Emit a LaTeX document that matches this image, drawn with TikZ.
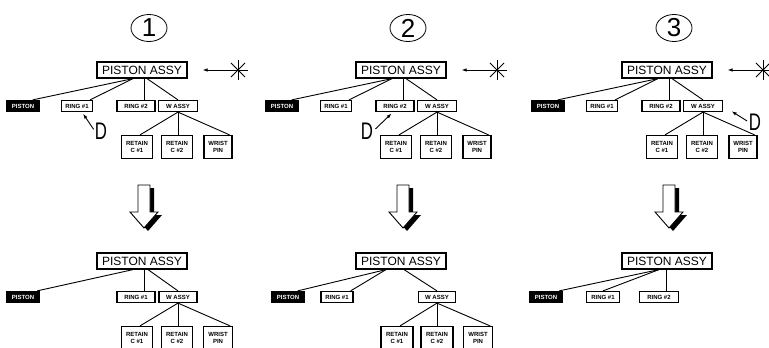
\documentclass[tikz,border=0pt]{standalone}
\usepackage{fontspec}
\setmainfont{Liberation Sans}
\usetikzlibrary{arrows.meta,shapes.geometric}
\tikzset{assy/.style={draw,line width=1.2pt,minimum width=90pt,minimum height=16pt,inner sep=1pt,font=\fontsize{12}{12}\selectfont},
  part/.style={draw,line width=1.2pt,fill=white,minimum height=11pt,inner sep=0.5pt,align=center,font=\fontsize{6}{6.5}\selectfont\bfseries},
  twoline/.style={part,minimum height=23pt},
  cut/.style={part,fill=black,text=white},
  num/.style={ellipse,draw,line width=0.8pt,minimum width=36pt,minimum height=27pt,inner sep=0pt,font=\fontsize{26}{26}\selectfont},
  dmark/.style={inner sep=0pt,font=\fontsize{24}{24}\selectfont},
  link/.style={line width=0.9pt},
  ptr/.style={line width=0.9pt,-{Latex[length=5pt,width=3.5pt]}}}
\begin{document}
\begin{tikzpicture}[x=1pt,y=-1pt]
\clip (0,0) rectangle (769,348);
% top row: the three trees before the change
\foreach \p/\dx/\n in {A/0/1,B/259/2,C/525/3}{
 \begin{scope}[xshift=\dx pt]
  \node[num] (num\p) at (149,28) {\n};
  \node[assy] (assy\p) at (142,70) {PISTON ASSY};
  \coordinate (star\p) at (238,70);
  \foreach \a in {0,45,90,135}{\draw[line width=0.8pt] (star\p) ++(\a:10) -- ++(\a+180:20);}
  \draw[ptr,shorten <=10pt,shorten >=15pt] (star\p) -- (assy\p.east);
  \node[cut,minimum width=32pt] (pist\p) at (23,106) {PISTON};
  \node[part,minimum width=31pt] (ringa\p) at (77,106) {RING \#1};
  \node[part,minimum width=38pt] (ringb\p) at (136,106) {RING \#2};
  \node[part,minimum width=39pt] (wassy\p) at (178,106) {W ASSY};
  \node[twoline,minimum width=31pt] (reta\p) at (137,147) {RETAIN\\C \#1};
  \node[twoline,minimum width=31pt] (retb\p) at (177,147) {RETAIN\\C \#2};
  \node[twoline,minimum width=28pt] (wpin\p) at (218,147) {WRIST\\PIN};
  \draw[link] ([xshift=-9pt]assy\p.south) -- ([xshift=-7pt]pist\p.north east);
  \draw[link] ([xshift=-9pt]assy\p.south) -- ([xshift=-3pt]ringa\p.north east);
  \draw[link] ([xshift=2pt]assy\p.south) -- ([xshift=2pt]assy\p.south |- ringb\p.north);
  \draw[link] ([xshift=5pt]assy\p.south) -- (wassy\p.north);
  \draw[link] (wassy\p.south) -- ([xshift=3pt]reta\p.north);
  \draw[link] (wassy\p.south) -- (wassy\p.south |- retb\p.north);
  \draw[link] (wassy\p.south) -- ([xshift=-3pt]wpin\p.north east);
 \end{scope}}
% the D pointers
\node[dmark] (dA) at (101,131) {\scalebox{.7}[1]{D}};
\draw[ptr,shorten <=2pt,shorten >=2pt] (dA.west) -- ([xshift=5pt]ringaA.south);
\node[dmark] (dB) at (367,131) {\scalebox{.7}[1]{D}};
\draw[ptr,shorten <=3pt,shorten >=2pt] (dB.east) -- ([xshift=-2pt]ringbB.south);
\node[dmark] (dC) at (755,122) {\scalebox{.7}[1]{D}};
\draw[ptr,shorten <=2pt,shorten >=10pt] (dC.west) -- (wassyC.east);
% big down arrows
\foreach \dx in {0,259,525}{
 \begin{scope}[xshift=\dx pt]
  \fill[shift={(4,3)}] (138,185) -- (150,185) -- (150,212) -- (158,212) -- (144,228) -- (130,212) -- (138,212) -- cycle;
  \filldraw[fill=white,line width=0.9pt] (138,185) -- (150,185) -- (150,212) -- (158,212) -- (144,228) -- (130,212) -- (138,212) -- cycle;
 \end{scope}}
% bottom row: the trees after the change
\node[assy] (assyD) at (142,261) {PISTON ASSY};
\node[cut,minimum width=33pt] (pistD) at (23,297) {PISTON};
\node[part,minimum width=38pt] (ringD) at (136,297) {RING \#1};
\node[part,minimum width=38pt] (wassyD) at (178,297) {W ASSY};
\node[twoline,minimum width=31pt] (retaD) at (137,338) {RETAIN\\C \#1};
\node[twoline,minimum width=31pt] (retbD) at (177,338) {RETAIN\\C \#2};
\node[twoline,minimum width=29pt] (wpinD) at (218,338) {WRIST\\PIN};
\draw[link] ([xshift=-9pt]assyD.south) -- ([xshift=-3pt]pistD.north east);
\draw[link] ([xshift=2pt]assyD.south) -- ([xshift=2pt]assyD.south |- ringD.north);
\draw[link] ([xshift=6pt]assyD.south) -- (wassyD.north);
\draw[link] (wassyD.south) -- ([xshift=3pt]retaD.north);
\draw[link] (wassyD.south) -- (wassyD.south |- retbD.north);
\draw[link] (wassyD.south) -- ([xshift=-3pt]wpinD.north east);
%
\node[assy] (assyE) at (401,261) {PISTON ASSY};
\node[cut,minimum width=32pt] (pistE) at (288,297) {PISTON};
\node[part,minimum width=32pt] (ringE) at (337,297) {RING \#1};
\node[part,minimum width=37pt] (wassyE) at (437,297) {W ASSY};
\node[twoline,minimum width=32pt] (retaE) at (397,338) {RETAIN\\C \#1};
\node[twoline,minimum width=32pt] (retbE) at (437,338) {RETAIN\\C \#2};
\node[twoline,minimum width=29pt] (wpinE) at (478,338) {WRIST\\PIN};
\draw[link] ([xshift=-15pt]assyE.south) -- ([xshift=-7pt]pistE.north east);
\draw[link] ([xshift=-15pt]assyE.south) -- ([xshift=-3pt]ringE.north east);
\draw[link] ([xshift=3pt]assyE.south) -- (wassyE.north);
\draw[link] (wassyE.south) -- ([xshift=3pt]retaE.north);
\draw[link] (wassyE.south) -- (wassyE.south |- retbE.north);
\draw[link] (wassyE.south) -- ([xshift=-3pt]wpinE.north east);
%
\node[assy] (assyF) at (667,261) {PISTON ASSY};
\node[cut,minimum width=33pt] (pistF) at (546,297) {PISTON};
\node[part,minimum width=33pt] (ringaF) at (603,297) {RING \#1};
\node[part,minimum width=39pt] (ringbF) at (659,297) {RING \#2};
\draw[link] ([xshift=-8pt]assyF.south) -- ([xshift=-4pt]pistF.north east);
\draw[link] ([xshift=-8pt]assyF.south) -- (ringaF.north);
\draw[link] ([xshift=-1pt]assyF.south) -- ([xshift=-1pt]assyF.south |- ringbF.north);
\end{tikzpicture}
\end{document}
